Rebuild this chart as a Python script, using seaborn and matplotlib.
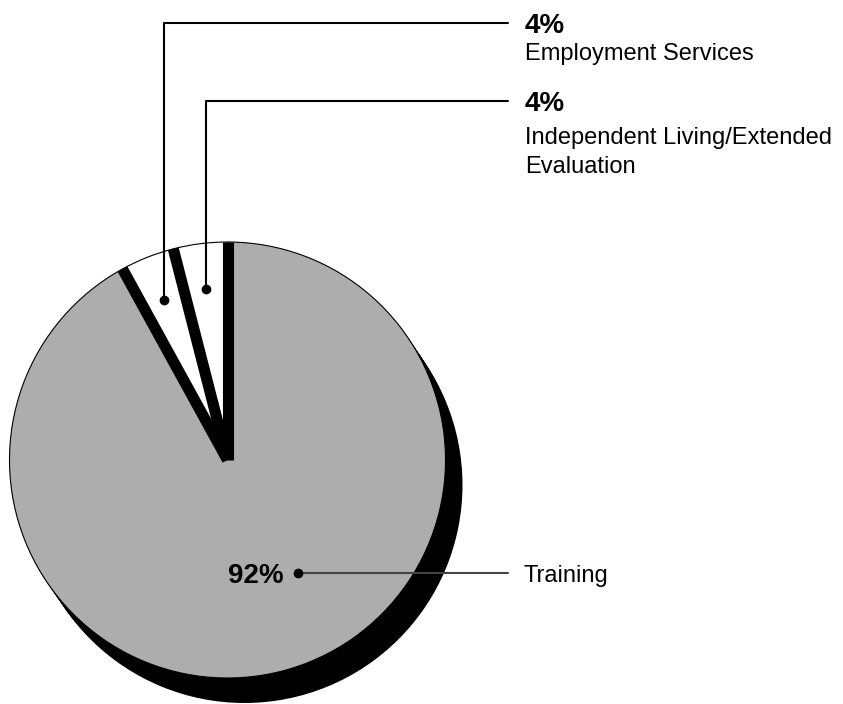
import numpy as np
import matplotlib.pyplot as plt
from matplotlib.patches import Circle
import seaborn as sns

# datos del grafico
categories = ['Independent Living/Extended\nEvaluation', 'Employment Services', 'Training']
shares = [4, 4, 92]
pct_labels = ['4%', '4%', '92%']
slice_colors = ['white', 'white', '#adadad']

sns.set_theme(style='white')
plt.rcParams['font.family'] = ['Liberation Sans', 'DejaVu Sans']
plt.rcParams['text.color'] = 'black'

W, H = 843, 704
fig = plt.figure(figsize=(W / 100, H / 100), dpi=100)
ax = fig.add_axes([0, 0, 1, 1])

# centro y radio en pixeles (y hacia arriba)
cx, cy, R = 227.5, H - 460, 218
shadow = np.array([17, -25])

# sombra: varios discos negros desplazados
for t in np.linspace(1, 0.05, 12):
    ax.pie([1], colors=['black'], radius=R,
           center=(cx + t * shadow[0], cy + t * shadow[1]),
           wedgeprops=dict(linewidth=0))

wedges, _ = ax.pie(shares, colors=slice_colors, radius=R, center=(cx, cy),
                   startangle=90, counterclock=True,
                   wedgeprops=dict(edgecolor='black', linewidth=0.8))

# bandas negras entre las porciones
clip = Circle((cx, cy), R, transform=ax.transData)
bounds = [wedges[0].theta1, wedges[0].theta2, wedges[1].theta2]
for ang in bounds:
    a = np.deg2rad(ang)
    ln, = ax.plot([cx, cx + R * np.cos(a)], [cy, cy + R * np.sin(a)],
                  color='black', lw=8, solid_capstyle='butt')
    ln.set_clip_path(clip)

# etiquetas con lineas guia
x_end, x_txt = 508, 525
line_y = [H - 101, H - 23]  # Independent, Employment
for i in range(2):
    w = wedges[i]
    a = np.deg2rad((w.theta1 + w.theta2) / 2)
    px, py = cx + 0.79 * R * np.cos(a), cy + 0.79 * R * np.sin(a)
    ax.plot([px, px, x_end], [py, line_y[i], line_y[i]], color='black', lw=1.5)
    ax.plot(px, py, 'o', color='black', ms=6)
    ax.text(x_txt, line_y[i] - 10, pct_labels[i], fontsize=20,
            fontweight='bold', va='baseline', ha='left')
    for j, line in enumerate(categories[i].split('\n')):
        ax.text(x_txt, line_y[i] - 37 - 29 * j - (6 if i == 0 else 0), line,
                fontsize=17, va='baseline', ha='left')

# Training
a = np.deg2rad(-58)
px, py = cx + 0.61 * R * np.cos(a), cy + 0.61 * R * np.sin(a)
ax.plot([px, x_end], [py, py], color='#444444', lw=1.5)
ax.plot(px, py, 'o', color='black', ms=6)
ax.text(px - 14, py - 10, pct_labels[2], fontsize=20, fontweight='bold',
        va='baseline', ha='right')
ax.text(x_txt - 2, py - 9, categories[2], fontsize=17, va='baseline', ha='left')

ax.set_xlim(0, W)
ax.set_ylim(0, H)
ax.axis('off')

fig.savefig('out.png', dpi=100)
